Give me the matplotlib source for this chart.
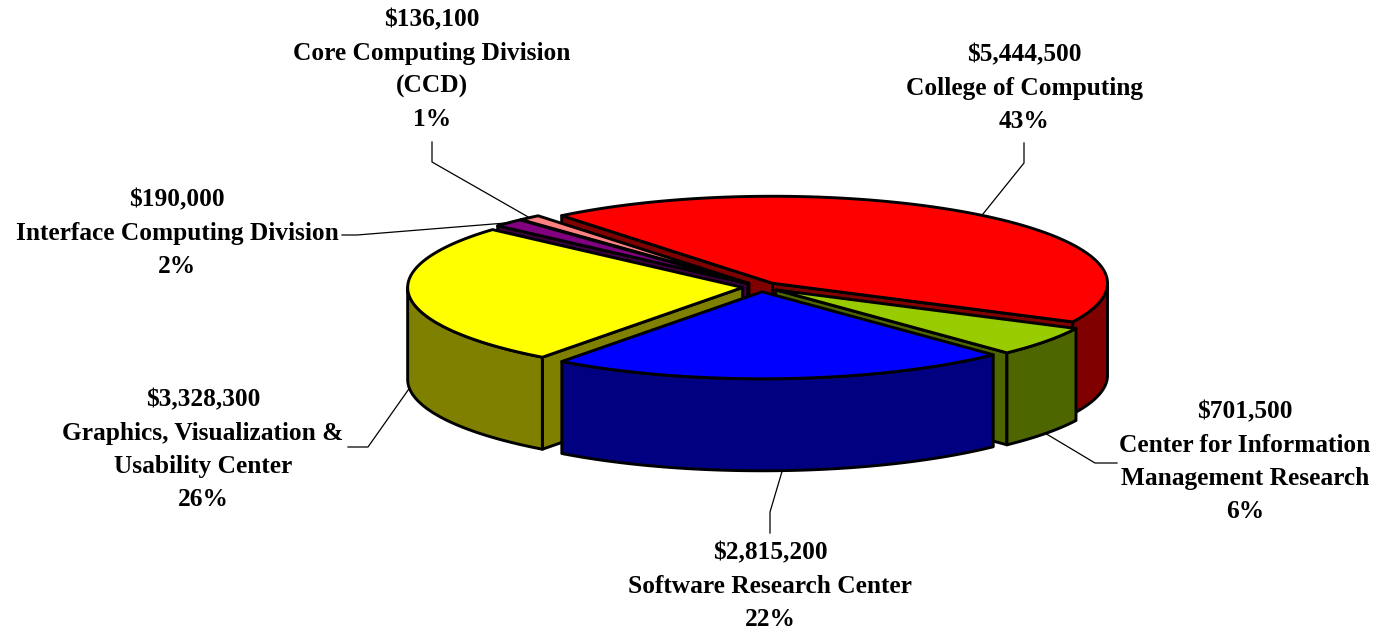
import numpy as np
import matplotlib.pyplot as plt
from matplotlib.patches import Polygon

# data
names = ["College of Computing",
         "Center for Information\nManagement Research",
         "Software Research Center",
         "Graphics, Visualization &\nUsability Center",
         "Interface Computing Division",
         "Core Computing Division\n(CCD)"]
values = [5444500, 701500, 2815200, 3328300, 190000, 136100]
top_colors = ["#FF0000", "#99CC00", "#0000FF", "#FFFF00", "#800080", "#FF8080"]
side_colors = ["#800000", "#4D6600", "#000080", "#808000", "#400040", "#804040"]

# label layout (centre x, y of first line) and leader elbows
label_xy = [(1024, 55), (1245, 412), (770, 553), (203, 400), (177, 200), (432, 20)]
elbows = [[(1024, 143), (1024, 163)],
          [(1117, 463), (1095, 463)],
          [(770, 533), (770, 512)],
          [(348, 447), (368, 447)],
          [(342, 235), (357, 235)],
          [(432, 142), (432, 162)]]

# 3d pie geometry (pixels)
cx, cy = 761, 287
rx, ry = 335, 87
depth = 92
explode = 0.055
start = 129.0
line_h = 33.2


def pt(theta, r, z, off):
    t = np.radians(theta)
    return (cx + off[0] + rx * r * np.cos(t),
            cy + off[1] - ry * r * np.sin(t) + z * depth)


def arc(lo, hi, z, off):
    n = max(int(abs(hi - lo) * 2), 2)
    ts = np.linspace(lo, hi, n)
    return [pt(t, 1, z, off) for t in ts]


fig = plt.figure(figsize=(13.78, 6.32), dpi=100)
ax = fig.add_axes([0, 0, 1, 1])
ax.set_xlim(0, 1378)
ax.set_ylim(632, 0)
ax.axis("off")

total = sum(values)
fracs = [v / total for v in values]

slices = []
hi = start
for i, f in enumerate(fracs):
    lo = hi - 360 * f
    mid = (lo + hi) / 2
    m = np.radians(mid)
    off = (explode * rx * np.cos(m), -explode * ry * np.sin(m))
    slices.append((i, lo, hi, mid, off))
    hi = lo

kw = dict(edgecolor="black", linewidth=2.1, joinstyle="round")

# back slices first
for i, lo, hi, mid, off in sorted(slices, key=lambda s: np.sin(np.radians(s[3])), reverse=True):
    tip0 = pt(0, 0, 0, off)
    tip1 = pt(0, 0, 1, off)
    # radial faces
    if np.cos(np.radians(lo)) > 0:
        ax.add_patch(Polygon([tip0, pt(lo, 1, 0, off), pt(lo, 1, 1, off), tip1],
                             facecolor=side_colors[i], **kw))
    if np.cos(np.radians(hi)) < 0:
        ax.add_patch(Polygon([tip0, pt(hi, 1, 0, off), pt(hi, 1, 1, off), tip1],
                             facecolor=side_colors[i], **kw))
    # outer wall (front half only)
    for k in (-360, 0, 360):
        a, b = max(lo, -180 + k), min(hi, k)
        if a < b:
            ax.add_patch(Polygon(arc(a, b, 0, off) + arc(b, a, 1, off),
                                 facecolor=side_colors[i], **kw))
    # top
    ax.add_patch(Polygon([tip0] + arc(lo, hi, 0, off), facecolor=top_colors[i], **kw))

# labels and leader lines
for i, lo, hi, mid, off in slices:
    front = np.sin(np.radians(mid)) < 0
    anchor = pt(mid, 1, 1 if front else 0, off)
    (x1, y1), (x2, y2) = elbows[i]
    ax.plot([x1, x2, anchor[0]], [y1, y2, anchor[1]], color="black", lw=0.9, zorder=5)

    lines = [f"${values[i]:,}"] + names[i].split("\n") + [f"{fracs[i]:.0%}"]
    lx, ly = label_xy[i]
    for j, s in enumerate(lines):
        ax.text(lx, ly + j * line_h, s, ha="center", va="center",
                fontsize=18.3, fontweight="bold",
                family=["Liberation Serif", "DejaVu Serif"])

fig.savefig("out.png", dpi=100)
